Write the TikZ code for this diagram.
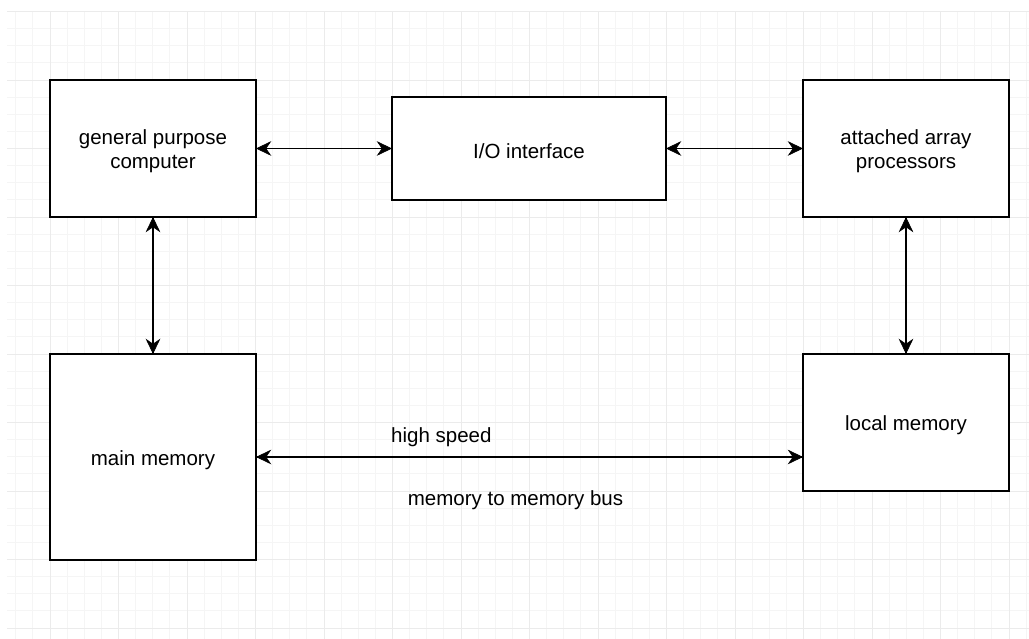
\documentclass[tikz,border=0pt]{standalone}
\usepackage{fontspec}
\setmainfont{Liberation Sans}
\usetikzlibrary{arrows.meta}
\tikzset{
  box/.style={draw=black, line width=1.6pt, fill=white, inner sep=0pt},
  boxtext/.style={inner sep=0pt, align=center, yshift=-3pt, font=\fontsize{20.5}{24}\selectfont},
  conn/.style={line width=1.6pt, draw=black},
  headfill/.style={fill=black, draw=black, line width=0.7pt, line join=miter},
  lbl/.style={inner sep=0pt, font=\fontsize{20.5}{24}\selectfont},
  minorgrid/.style={draw=black!4, line width=0.9pt},
  majorgrid/.style={draw=black!8, line width=0.9pt}
}
\newcommand{\arrowheadat}[2]{%
  \fill[headfill, shift={(#1)}, rotate=#2] (0,0) -- (-13.5,6.5) -- (-9,0) -- (-13.5,-6.5) -- cycle;}
\begin{document}
\begin{tikzpicture}[x=1pt,y=1pt]
\useasboundingbox (0,0) rectangle (1029,639);
\fill[white] (0,0) rectangle (1029,639);
% grid
\begin{scope}
\clip (7,0) rectangle (1029,628);
\foreach \i in {0,...,59} {
  \pgfmathsetmacro{\gx}{15.75+17.125*\i}
  \draw[minorgrid] (\gx,0) -- (\gx,628);
}
\foreach \i in {0,...,37} {
  \pgfmathsetmacro{\gy}{627.5-17.125*\i}
  \draw[minorgrid] (7,\gy) -- (1029,\gy);
}
\foreach \i in {0,...,14} {
  \pgfmathsetmacro{\gx}{50+68.5*\i}
  \draw[majorgrid] (\gx,0) -- (\gx,628);
}
\foreach \i in {0,...,9} {
  \pgfmathsetmacro{\gy}{627.5-68.5*\i}
  \draw[majorgrid] (7,\gy) -- (1029,\gy);
}
\end{scope}
% boxes
\node[box, minimum width=206pt, minimum height=137pt] (gpc) at (153,490.5) {};
\node[box, minimum width=274pt, minimum height=103pt] (io) at (529,490.5) {};
\node[box, minimum width=206pt, minimum height=137pt] (aap) at (906,490.5) {};
\node[box, minimum width=206pt, minimum height=206pt] (mm) at (153,182) {};
\node[box, minimum width=206pt, minimum height=137pt] (lm) at (906,216.5) {};
\node[boxtext] (gpct) at (gpc.center) {general purpose\\computer};
\node[boxtext] (iot) at (io.center) {I/O interface};
\node[boxtext] (aapt) at (aap.center) {attached array\\processors};
\node[boxtext] (mmt) at (mm.center) {main memory};
\node[boxtext] (lmt) at (lm.center) {local memory};
% connectors
\coordinate (lmbus) at (mm.east -| lm.west);
\draw[conn] (gpc.east) -- (io.west);
\arrowheadat{gpc.east}{180}\arrowheadat{io.west}{0}
\draw[conn] (io.east) -- (aap.west);
\arrowheadat{io.east}{180}\arrowheadat{aap.west}{0}
\draw[conn] (gpc.south) -- (mm.north);
\arrowheadat{gpc.south}{90}\arrowheadat{mm.north}{-90}
\draw[conn] (aap.south) -- (lm.north);
\arrowheadat{aap.south}{90}\arrowheadat{lm.north}{-90}
\draw[conn] (mm.east) -- (lmbus);
\arrowheadat{mm.east}{180}\arrowheadat{lmbus}{0}
% labels
\node[lbl, anchor=west] (hs) at (391,202) {high speed};
\node[lbl] (mb) at (515.5,139) {memory to memory bus};
\end{tikzpicture}
\end{document}
